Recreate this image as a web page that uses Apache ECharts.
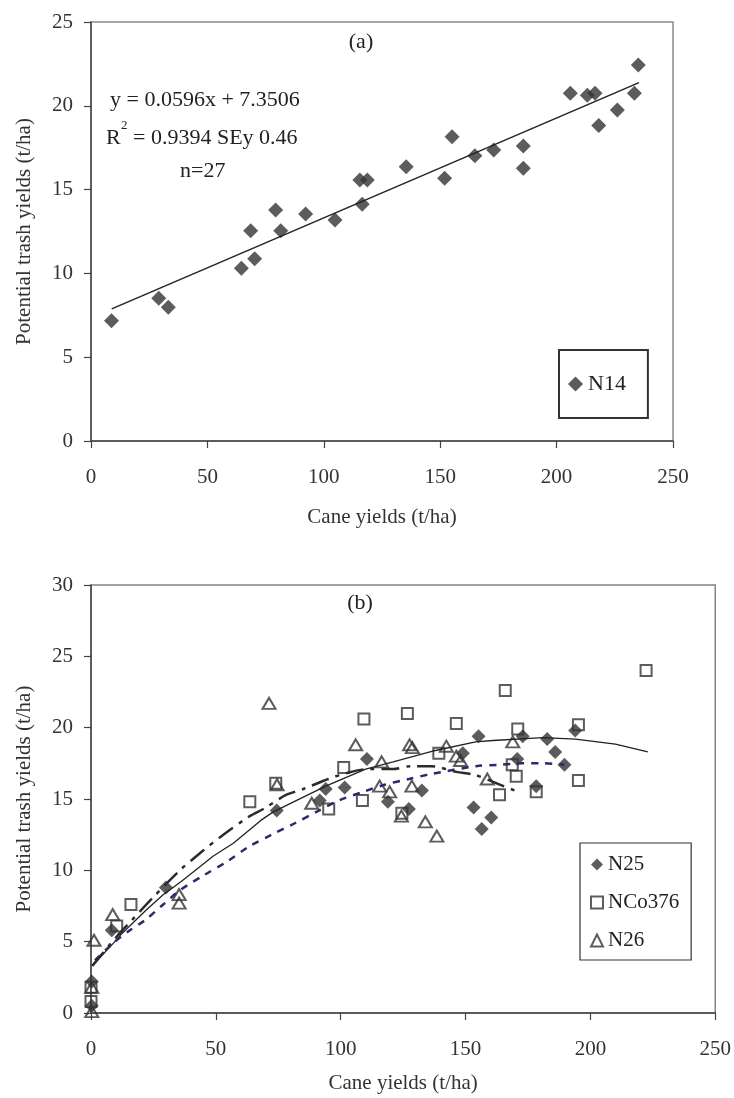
<!DOCTYPE html>
<html>
<head>
<meta charset="utf-8">
<script src="https://cdn.jsdelivr.net/npm/echarts@6/dist/echarts.min.js"></script>
<style>
  html, body { margin: 0; padding: 0; background: #fff; }
  #chart { width: 734px; height: 1098px; }
</style>
</head>
<body>
<div id="chart"></div>
<script>
// panel (a): N14
const n14X = [8.8, 29.1, 33.2, 64.6, 68.6, 70.3, 79.3, 81.5, 92.2, 104.8, 115.5, 116.5, 118.7, 135.4,
    151.9, 155.1, 164.9, 173.0, 185.7, 185.7, 205.9, 213.2, 216.5, 218.1, 226.1, 233.4, 235.1];
const n14Y = [7.18, 8.51, 7.98, 10.3, 12.55, 10.88, 13.78, 12.55, 13.54, 13.19, 15.57, 14.12, 15.57, 16.37,
    15.67, 18.16, 17.02, 17.36, 17.6, 16.27, 20.75, 20.63, 20.75, 18.82, 19.75, 20.75, 22.43];
const trendX = [8.9, 235.4];
const trendY = [7.88, 21.38];

// panel (b)
const n25X = [0.3, 0.3, 8.3, 30, 74.4, 91.6, 94, 101.6, 110.5, 118.9, 127.3, 132.5, 148.9, 153.2, 155.2,
    156.5, 160.3, 170.7, 172.9, 178.3, 182.7, 185.9, 189.6, 193.9];
const n25Y = [2.2, 0.5, 5.8, 8.8, 14.2, 14.9, 15.7, 15.8, 17.8, 14.8, 14.3, 15.6, 18.2, 14.4, 19.4,
    12.9, 13.7, 17.8, 19.4, 15.9, 19.2, 18.3, 17.4, 19.8];

const nco376X = [0, 0, 10.3, 16, 63.6, 74, 95.2, 101.2, 108.7, 109.3, 124.5, 126.7, 139.3, 146.3, 163.6,
    165.9, 168.7, 170.3, 170.9, 178.3, 195.2, 195.2, 222.3];
const nco376Y = [1.8, 0.8, 6.1, 7.6, 14.8, 16.1, 14.3, 17.2, 14.9, 20.6, 14.0, 21.0, 18.2, 20.3, 15.3,
    22.6, 17.4, 16.6, 19.9, 15.5, 20.2, 16.3, 24.0];

const n26X = [0.3, 0.3, 1.2, 8.7, 35.3, 35.3, 71.3, 74.5, 88.4, 106, 115.6, 116.4, 119.6, 124.3, 127.6,
    128.7, 128.5, 133.9, 138.5, 142.3, 146.3, 148, 158.7, 168.9];
const n26Y = [1.8, 0.1, 5.1, 6.9, 8.3, 7.7, 21.7, 16.0, 14.7, 18.8, 15.9, 17.6, 15.5, 13.8, 18.8,
    18.6, 15.9, 13.4, 12.4, 18.7, 18.0, 17.7, 16.4, 19.0];

// fitted curves
const solidX = [0.5, 9, 12, 22, 29, 36, 49, 57, 68, 73, 94, 110, 121, 138, 154, 161, 181, 194, 210, 223];
const solidY = [3.3, 4.9, 5.5, 7.2, 8.3, 9.2, 11.0, 11.9, 13.5, 14.1, 15.9, 17.1, 17.6, 18.4, 19.0, 19.1, 19.3, 19.2, 18.85, 18.3];
const navyX = [1.6, 8.9, 15.6, 21.6, 28.9, 35.6, 45.6, 54.4, 63.6, 72.4, 81.6, 90.3, 99.3, 109, 117.6,
    127.3, 136.3, 154.3, 163.6, 172.3, 181, 189.6];
const navyY = [3.7, 4.9, 5.8, 6.5, 7.6, 8.6, 9.7, 10.6, 11.7, 12.5, 13.3, 14.1, 14.9, 15.5, 16.0,
    16.4, 16.75, 17.3, 17.4, 17.5, 17.5, 17.4];
const dashX = [0.5, 11, 16.3, 24.3, 35.6, 44.3, 53, 63.6, 69, 78.3, 85, 95, 102, 111, 121, 128,
    136.3, 146.3, 153.6, 161, 169.6];
const dashY = [3.3, 5.5, 6.5, 8.0, 10.0, 11.3, 12.5, 13.8, 14.3, 15.3, 15.7, 16.4, 16.8, 17.1, 17.1, 17.3,
    17.3, 16.9, 16.7, 16.2, 15.6];

const xTicks = [0, 50, 100, 150, 200, 250];

const FONT = "'Liberation Serif', 'DejaVu Serif', serif";
const INK = "#333";

const zip = (xs, ys) => xs.map((x, i) => [x, ys[i]]);

function xAxis(gridIndex) {
    return {
        gridIndex,
        type: "value",
        min: xTicks[0],
        max: xTicks[xTicks.length - 1],
        interval: 50,
        name: "Cane yields (t/ha)",
        nameLocation: "middle",
        nameGap: gridIndex === 0 ? 66 : 60,
        nameTextStyle: { fontFamily: FONT, fontSize: 21, color: INK },
        axisLine: { lineStyle: { color: "#444", width: 1.5 } },
        axisTick: { inside: false, length: 7, lineStyle: { color: "#444", width: 1.2 } },
        axisLabel: { fontFamily: FONT, fontSize: 21, color: INK, margin: 26 },
        splitLine: { show: false },
    };
}

function yAxis(gridIndex, max) {
    return {
        gridIndex,
        type: "value",
        min: 0,
        max,
        interval: 5,
        name: "Potential trash yields (t/ha)",
        nameLocation: "middle",
        nameGap: 56,
        nameTextStyle: { fontFamily: FONT, fontSize: 21, color: INK },
        axisLine: { show: true, lineStyle: { color: "#444", width: 1.5 } },
        axisTick: { show: true, inside: false, length: 7, lineStyle: { color: "#444", width: 1.2 } },
        axisLabel: { fontFamily: FONT, fontSize: 21, color: INK, margin: 18 },
        splitLine: { show: false },
    };
}

function text(x, y, str, size, align) {
    return {
        type: "text",
        x,
        y,
        style: {
            text: str,
            font: `${size}px ${FONT}`,
            fill: "#222",
            textAlign: align || "left",
            textVerticalAlign: "middle",
        },
        z: 100,
    };
}

const hollow = { color: "rgba(255,255,255,0)", borderColor: INK, borderWidth: 2 };

const chart = echarts.init(document.getElementById("chart"));

chart.setOption({
    backgroundColor: "#fff",
    animation: false,
    grid: [
        { left: 91, width: 582, top: 22, height: 419, show: true, borderColor: "#8c8c8c", borderWidth: 1.5 },
        { left: 91, width: 625, top: 585, height: 428, show: true, borderColor: "#8a8080", borderWidth: 1.5 },
    ],
    xAxis: [xAxis(0), xAxis(1)],
    yAxis: [yAxis(0, 25), yAxis(1, 30)],
    legend: [
        {
            data: ["N14"],
            left: 559,
            top: 350,
            orient: "vertical",
            padding: [23, 22, 23, 9],
            borderColor: "#333",
            borderWidth: 2,
            itemWidth: 15,
            itemHeight: 15,
            itemGap: 6,
            textStyle: { fontFamily: FONT, fontSize: 22, color: "#222" },
        },
        {
            data: ["N25", "NCo376", "N26"],
            left: 580,
            top: 843,
            orient: "vertical",
            padding: [11, 12, 9, 10],
            borderColor: "#333",
            borderWidth: 1.2,
            itemWidth: 12,
            itemHeight: 12,
            itemGap: 17,
            textStyle: { fontFamily: FONT, fontSize: 21, color: "#222" },
        },
    ],
    graphic: [
        text(361, 42, "(a)", 22, "center"),
        text(110, 100, "y = 0.0596x + 7.3506", 22),
        text(106, 138, "R", 22),
        text(121, 126, "2", 13),
        text(133, 138, "= 0.9394 SEy 0.46", 22),
        text(180, 171, "n=27", 22),
        text(360, 603, "(b)", 22, "center"),
    ],
    series: [
        {
            name: "trend",
            type: "line",
            xAxisIndex: 0,
            yAxisIndex: 0,
            data: zip(trendX, trendY),
            showSymbol: false,
            lineStyle: { color: "#222", width: 1.5 },
        },
        {
            name: "N14",
            type: "scatter",
            xAxisIndex: 0,
            yAxisIndex: 0,
            symbol: "diamond",
            symbolSize: 15,
            itemStyle: { color: INK },
            data: zip(n14X, n14Y),
        },
        {
            name: "fit NCo376",
            type: "line",
            xAxisIndex: 1,
            yAxisIndex: 1,
            data: zip(solidX, solidY),
            showSymbol: false,
            lineStyle: { color: "#222", width: 1.3 },
        },
        {
            name: "fit N25",
            type: "line",
            xAxisIndex: 1,
            yAxisIndex: 1,
            data: zip(navyX, navyY),
            showSymbol: false,
            smooth: 0.3,
            lineStyle: { color: "#2a2a6e", width: 2.5, type: [7, 7] },
        },
        {
            name: "fit N26",
            type: "line",
            xAxisIndex: 1,
            yAxisIndex: 1,
            data: zip(dashX, dashY),
            showSymbol: false,
            smooth: 0.3,
            lineStyle: { color: "#2b2b2b", width: 2.5, type: [18, 7, 4, 7] },
        },
        {
            name: "NCo376",
            type: "scatter",
            xAxisIndex: 1,
            yAxisIndex: 1,
            symbol: "rect",
            symbolSize: 11,
            itemStyle: hollow,
            data: zip(nco376X, nco376Y),
        },
        {
            name: "N26",
            type: "scatter",
            xAxisIndex: 1,
            yAxisIndex: 1,
            symbol: "triangle",
            symbolSize: [13, 11],
            itemStyle: hollow,
            data: zip(n26X, n26Y),
        },
        {
            name: "N25",
            type: "scatter",
            xAxisIndex: 1,
            yAxisIndex: 1,
            symbol: "diamond",
            symbolSize: 14,
            itemStyle: { color: INK },
            data: zip(n25X, n25Y),
        },
    ],
});
</script>
</body>
</html>
